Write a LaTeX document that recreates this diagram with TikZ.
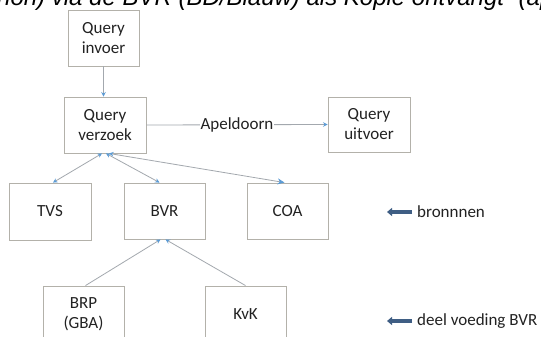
\documentclass[tikz,border=0pt]{standalone}
\usepackage{fontspec}
\setmainfont{Carlito}
\newfontfamily\hdrfont{Liberation Sans}
\usetikzlibrary{arrows.meta,calc}
\definecolor{boxgray}{HTML}{B3B1AA}
\definecolor{linegray}{HTML}{A3A8AE}
\definecolor{tipblue}{HTML}{5B9BD5}
\definecolor{txtdark}{HTML}{222222}
\definecolor{bigblue}{HTML}{3F5E84}
\tikzset{
  box/.style={draw=boxgray, line width=0.9pt, fill=white, inner sep=0pt,
    minimum width=81pt, minimum height=56pt, align=center, text=txtdark,
    font=\fontsize{17}{20}\selectfont},
  conn/.style={draw=linegray, line width=0.8pt},
  tipS/.tip={Stealth[length=4.5pt,width=4.5pt,color=tipblue]},
  tipL/.tip={Stealth[length=7pt,width=6pt,color=tipblue]},
  bigarrow/.style={draw=bigblue, line width=3.2pt, -{Triangle[length=5pt,width=8pt]}},
  lbl/.style={anchor=west, inner sep=0pt, text=txtdark, font=\fontsize{17}{20}\selectfont}
}
\begin{document}
\begin{tikzpicture}[x=1pt,y=-1pt]
\useasboundingbox (0,0) rectangle (541,337);
\fill[white] (0,0) rectangle (541,337);
\begin{scope}
\clip (0,0) rectangle (541,337);
\node[anchor=base west, inner sep=0pt, text=black,
  font=\hdrfont\itshape\fontsize{24}{28}\selectfont] (hdr) at (-3,6)
  {non) via de BVR (BD/Blauw) als Kopie ontvangt” (ap};

\node[box, minimum width=71pt] (inv) at (103.5,38) {Query\\invoer};
\node[box, minimum width=82pt] (verz) at (105,125) {Query\\verzoek};
\node[box, minimum width=82pt, minimum height=55pt] (uitv) at (369,124.5) {Query\\uitvoer};
\node[box, minimum width=82pt, minimum height=57pt] (tvs) at (50,211.5) {TVS};
\node[box] (bvr) at (164.5,211) {BVR};
\node[box] (coa) at (287.5,211) {COA};
\node[box] (brp) at (83.5,314) {BRP\\(GBA)};
\node[box] (kvk) at (245.5,314) {KvK};

\draw[conn, -tipS] (inv.south) -- (inv.south |- verz.north);
\draw[conn, -tipS] (verz.east) -- node[fill=white, inner sep=1pt, text=txtdark,
  font=\fontsize{17}{20}\selectfont] (apel) {Apeldoorn} (uitv.west);

\draw[conn, tipS-tipS] ($(verz.south)+(-3,0)$) -- ($(tvs.north)+(3,0)$);
\draw[conn, tipS-tipS] ($(verz.south)+(1,0)$) -- ($(bvr.north)+(-5,0)$);
\draw[conn, tipS-tipL] ($(verz.south)+(4,0)$) -- ($(coa.north)+(-3,0)$);

\draw[conn, -tipS] ($(brp.north)+(2,0)$) -- ($(bvr.south)+(-4,0)$);
\draw[conn, -tipS] (kvk.north) -- ($(bvr.south)+(1,0)$);

\node[lbl] (bron) at (417,212) {bronnnen};
\node[lbl] (deel) at (417,321) {deel voeding BVR};
\coordinate (bronend) at (387,212);
\coordinate (deelend) at (387,321);
\draw[bigarrow] ($(bron.west)+(-5,0)$) -- (bronend);
\draw[bigarrow] ($(deel.west)+(-5,0)$) -- (deelend);
\end{scope}
\end{tikzpicture}
\end{document}
